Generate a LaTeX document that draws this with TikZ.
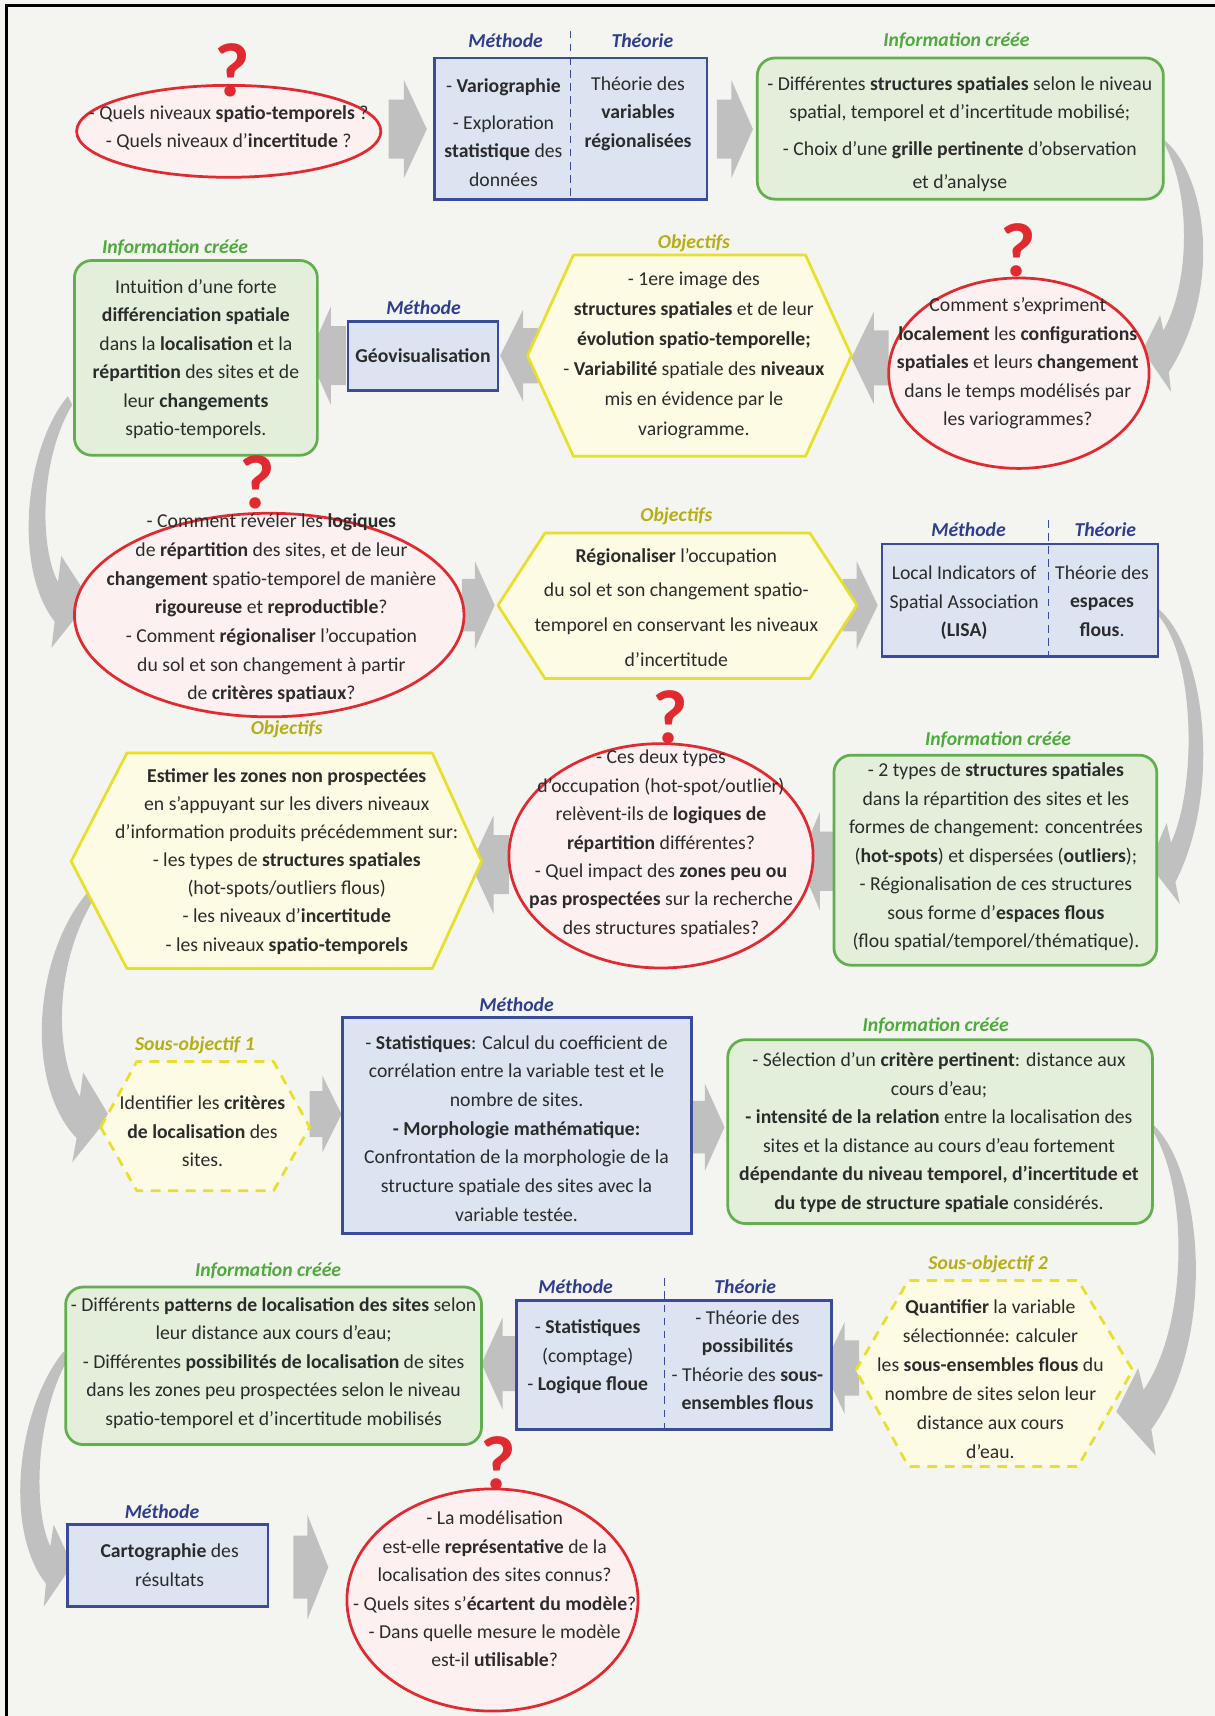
\documentclass[tikz,border=0pt]{standalone}
\usepackage{fontspec}
\setmainfont{Carlito}
\usetikzlibrary{shapes.geometric}
\definecolor{bgc}{HTML}{F4F4F0}
\definecolor{redc}{HTML}{E02A30}
\definecolor{redfill}{HTML}{FCF1F0}
\definecolor{bluec}{HTML}{3B4B9B}
\definecolor{bluefill}{HTML}{DCE4F2}
\definecolor{greenc}{HTML}{63AE4E}
\definecolor{greenfill}{HTML}{E3EFDB}
\definecolor{yellowc}{HTML}{E6E02C}
\definecolor{yellowfill}{HTML}{FDFBE4}
\definecolor{arrowc}{HTML}{C0C0C0}
\definecolor{tblue}{HTML}{2F3D8E}
\definecolor{tgreen}{HTML}{4EAA3C}
\definecolor{tolive}{HTML}{B5AE17}
\definecolor{txtc}{HTML}{2B2B2B}
\newcommand{\blockarr}[4]{\fill[arrowc] ({#1},{#3-0.6*#4}) -- ({#1+0.4*(#2-#1)},{#3-0.6*#4}) -- ({#1+0.4*(#2-#1)},{#3-#4}) -- ({#2},{#3}) -- ({#1+0.4*(#2-#1)},{#3+#4}) -- ({#1+0.4*(#2-#1)},{#3+0.6*#4}) -- ({#1},{#3+0.6*#4}) -- cycle;}
\begin{document}
\begin{tikzpicture}[x=1pt,y=-1pt,
  txt/.style={font=\fontsize{18}{26}\selectfont, align=center, text=txtc, inner sep=0pt},
  ttl/.style={font=\fontsize{18}{20}\selectfont\bfseries\itshape, inner sep=0pt},
  tb/.style={ttl, text=tblue},
  tg/.style={ttl, text=tgreen},
  ty/.style={ttl, text=tolive},
  qmark/.style={font=\fontsize{70}{70}\selectfont\bfseries, text=redc, inner sep=0pt},
  redell/.style={ellipse, draw=redc, fill=redfill, line width=2.5pt, inner sep=0pt},
  bluebox/.style={rectangle, draw=bluec, fill=bluefill, line width=2.5pt, inner sep=0pt},
  greenbox/.style={rectangle, rounded corners=16pt, draw=greenc, fill=greenfill, line width=2.5pt, inner sep=0pt},
  yelhex/.style={draw=yellowc, fill=yellowfill, line width=2.5pt, line join=round},
  yeldash/.style={yelhex, dash pattern=on 9pt off 7pt},
  sep/.style={draw=bluec, line width=1.2pt, dash pattern=on 7pt off 5pt}
]
\fill[bgc] (0,0) rectangle (1110,1568);
\useasboundingbox (0,0) rectangle (1110,1568);
\draw[black, line width=2.5pt] (6,1568) -- (6,5) -- (1110,5);

% curved arrows
\fill[arrowc] (1064,128) .. controls (1102,160) and (1118,262) .. (1068,340) -- (1070,358) -- (1044,320) -- (1060,288) -- (1063,302) .. controls (1088,258) and (1088,175) .. (1064,132) -- cycle;
\fill[arrowc] (62,362) .. controls (22,410) and (12,520) .. (50,568) -- (47,592) -- (82,548) -- (56,508) -- (53,532) .. controls (36,500) and (36,420) .. (66,370) -- cycle;
\fill[arrowc] (1058,556) .. controls (1100,590) and (1118,720) .. (1074,806) -- (1078,826) -- (1050,790) -- (1066,752) -- (1070,770) .. controls (1094,718) and (1092,600) .. (1058,562) -- cycle;
\fill[arrowc] (83,812) .. controls (30,870) and (22,990) .. (70,1040) -- (66,1062) -- (100,1020) -- (76,980) -- (73,1002) .. controls (50,965) and (48,880) .. (88,818) -- cycle;
\fill[arrowc] (1053,1027) .. controls (1100,1070) and (1112,1225) .. (1052,1306) -- (1056,1330) -- (1020,1290) -- (1040,1250) -- (1045,1270) .. controls (1086,1210) and (1086,1085) .. (1053,1033) -- cycle;
\fill[arrowc] (58,1235) .. controls (14,1290) and (4,1400) .. (42,1447) -- (40,1468) -- (66,1430) -- (49,1393) -- (46,1413) .. controls (30,1380) and (32,1295) .. (62,1242) -- cycle;

% block arrows
\blockarr{355}{390}{118}{45}
\blockarr{655}{688}{118}{45}
\blockarr{316}{282}{325}{45}
\blockarr{492}{457}{325}{42}
\blockarr{812}{778}{327}{42}
\blockarr{422}{452}{553}{40}
\blockarr{770}{802}{553}{40}
\blockarr{465}{430}{790}{45}
\blockarr{762}{730}{787}{45}
\blockarr{283}{312}{1018}{35}
\blockarr{632}{662}{1030}{40}
\blockarr{472}{440}{1246}{42}
\blockarr{785}{752}{1250}{42}
\blockarr{268}{300}{1432}{48}

% Row 1
\node[redell, minimum width=278pt, minimum height=84pt] (e1) at (209,120) {};
\node[txt] (e1t) at (209,117) {- Quels niveaux \textbf{spatio-temporels} ?\\- Quels niveaux d’\textbf{incertitude} ?};
\node[qmark] (q1) at (212,64) {?};
\node[bluebox, minimum width=249pt, minimum height=129pt] (b1) at (521.5,117.5) {};
\draw[sep] (521,28) -- (521,182);
\node[tb] (b1m) at (462,37) {Méthode};
\node[tb] (b1th) at (587,37) {Théorie};
\node[txt] (b1l) at (460,121) {- \textbf{Variographie}\\[8pt]- Exploration\\\textbf{statistique} des\\données};
\node[txt] (b1r) at (583,104) {Théorie des\\\textbf{variables}\\\textbf{régionalisées}};
\node[greenbox, minimum width=371pt, minimum height=129pt] (g1) at (877.5,117.5) {};
\node[tg] (g1h) at (874,37) {Information créée};
\node[txt] (g1t) at (877,122.5) {- Différentes \textbf{structures spatiales} selon le niveau\\spatial, temporel et d’incertitude mobilisé;\\[8pt]- Choix d’une \textbf{grille pertinente} d’observation\\[4pt]et d’analyse};

% Row 2
\node[greenbox, minimum width=222pt, minimum height=178pt] (g2) at (179,327) {};
\node[tg] (g2h) at (160,226) {Information créée};
\node[txt] (g2t) at (179,328) {Intuition d’une forte\\\textbf{différenciation spatiale}\\dans la \textbf{localisation} et la\\\textbf{répartition} des sites et de\\leur \textbf{changements}\\spatio-temporels.};
\node[bluebox, minimum width=137pt, minimum height=63pt] (b2) at (386.5,325.5) {};
\node[tb] (b2m) at (387,281) {Méthode};
\node[txt] (b2t) at (386.5,325) {\textbf{Géovisualisation}};
\filldraw[yelhex] (482,325) -- (524,233) -- (736,233) -- (778,325) -- (736,417) -- (524,417) -- cycle;
\node[ty] (h2h) at (634,222) {Objectifs};
\node[txt, font=\fontsize{18}{27.4}\selectfont] (h2t) at (634,324.5) {- 1ere image des\\\textbf{structures spatiales} et de leur\\\textbf{évolution spatio-temporelle;}\\- \textbf{Variabilité} spatiale des \textbf{niveaux}\\mis en évidence par le\\variogramme.};
\node[redell, minimum width=238pt, minimum height=174pt] (e2) at (931,341) {};
\node[txt] (e2t) at (930,332) {Comment s’expriment\\\textbf{localement} les \textbf{configurations}\\\textbf{spatiales} et leurs \textbf{changement}\\dans le temps modélisés par\\les variogrammes?};
\node[qmark] (q2) at (930,229) {?};

% Row 3
\node[redell, minimum width=356pt, minimum height=186pt] (e3) at (246,562) {};
\node[txt, font=\fontsize{18}{26.2}\selectfont] (e3t) at (248,556) {- Comment révéler les \textbf{logiques}\\de \textbf{répartition} des sites, et de leur\\\textbf{changement} spatio-temporel de manière\\\textbf{rigoureuse} et \textbf{reproductible}?\\- Comment \textbf{régionaliser} l’occupation\\du sol et son changement à partir\\de \textbf{critères spatiaux}?};
\node[qmark] (q3) at (235,441) {?};
\filldraw[yelhex] (455,553) -- (498,487) -- (740,487) -- (783,553) -- (740,620) -- (498,620) -- cycle;
\node[ty] (h3h) at (618,472) {Objectifs};
\node[txt, font=\fontsize{18}{31.7}\selectfont] (h3t) at (618,555) {\textbf{Régionaliser} l’occupation\\du sol et son changement spatio-\\temporel en conservant les niveaux\\d’incertitude};
\node[bluebox, minimum width=252pt, minimum height=103pt] (b3) at (932,548.5) {};
\draw[sep] (958,475) -- (958,600);
\node[tb] (b3m) at (885,484) {Méthode};
\node[tb] (b3th) at (1010,484) {Théorie};
\node[txt] (b3l) at (881,551) {Local Indicators of\\Spatial Association\\\textbf{(LISA)}};
\node[txt] (b3r) at (1007,549) {Théorie des\\\textbf{espaces}\\\textbf{flous}.};

% Row 4
\filldraw[yelhex] (65,787) -- (116,688) -- (395,688) -- (440,787) -- (395,885) -- (116,885) -- cycle;
\node[ty] (h4h) at (262,666) {Objectifs};
\node[txt, font=\fontsize{18}{25.7}\selectfont] (h4t) at (262,787) {\textbf{Estimer les zones non prospectées}\\en s’appuyant sur les divers niveaux\\d’information produits précédemment sur:\\- les types de \textbf{structures spatiales}\\(hot-spots/outliers flous)\\- les niveaux d’\textbf{incertitude}\\- les niveaux \textbf{spatio-temporels}};
\node[redell, minimum width=278pt, minimum height=205pt] (e4) at (604,782) {};
\node[txt] (e4t) at (604,771) {- Ces deux types\\d’occupation (hot-spot/outlier)\\relèvent-ils de \textbf{logiques de}\\\textbf{répartition} différentes?\\- Quel impact des \textbf{zones peu ou}\\\textbf{pas prospectées} sur la recherche\\des structures spatiales?};
\node[qmark] (q4) at (612,655) {?};
\node[greenbox, minimum width=295pt, minimum height=192pt] (g4) at (909.5,786) {};
\node[tg] (g4h) at (912,676) {Information créée};
\node[txt] (g4t) at (910,783) {- 2 types de \textbf{structures spatiales}\\dans la répartition des sites et les\\formes de changement: concentrées\\(\textbf{hot-spots}) et dispersées (\textbf{outliers});\\- Régionalisation de ces structures\\sous forme d’\textbf{espaces flous}\\(flou spatial/temporel/thématique).};

% Row 5
\filldraw[yeldash] (92,1030) -- (125,970) -- (250,970) -- (283,1030) -- (250,1088) -- (125,1088) -- cycle;
\node[ty] (h5h) at (178,955) {Sous-objectif 1};
\node[txt] (h5t) at (185,1034) {Identifier les \textbf{critères}\\\textbf{de localisation} des\\sites.};
\node[bluebox, minimum width=319pt, minimum height=197pt] (b5) at (472.5,1028.5) {};
\node[tb] (b5m) at (472,918) {Méthode};
\node[txt, font=\fontsize{18}{26.2}\selectfont] (b5t) at (472,1031) {- \textbf{Statistiques}: Calcul du coefficient de\\corrélation entre la variable test et le\\nombre de sites.\\\textbf{- Morphologie mathématique:}\\Confrontation de la morphologie de la\\structure spatiale des sites avec la\\variable testée.};
\node[greenbox, minimum width=388pt, minimum height=168pt] (g5) at (859,1034) {};
\node[tg] (g5h) at (855,937) {Information créée};
\node[txt] (g5t) at (858,1035) {- Sélection d’un \textbf{critère pertinent}: distance aux\\cours d’eau;\\\textbf{- intensité de la relation} entre la localisation des\\sites et la distance au cours d’eau fortement\\\textbf{dépendante du niveau temporel, d’incertitude et}\\\textbf{du type de structure spatiale} considérés.};

% Row 6
\node[greenbox, minimum width=380pt, minimum height=144pt] (g6) at (250,1248) {};
\node[tg] (g6h) at (245,1161) {Information créée};
\node[txt] (g6t) at (250,1245.5) {- Différents \textbf{patterns de localisation des sites} selon\\leur distance aux cours d’eau;\\- Différentes \textbf{possibilités de localisation} de sites\\dans les zones peu prospectées selon le niveau\\spatio-temporel et d’incertitude mobilisés};
\node[bluebox, minimum width=288pt, minimum height=118pt] (b6) at (616,1247) {};
\draw[sep] (607,1168) -- (607,1306);
\node[tb] (b6m) at (526,1176) {Méthode};
\node[tb] (b6th) at (681,1176) {Théorie};
\node[txt] (b6l) at (537,1240) {- \textbf{Statistiques}\\(comptage)\\- \textbf{Logique floue}};
\node[txt] (b6r) at (683,1243) {- Théorie des\\\textbf{possibilités}\\- Théorie des \textbf{sous-}\\\textbf{ensembles flous}};
\filldraw[yeldash] (782,1252) -- (830,1170) -- (985,1170) -- (1035,1252) -- (985,1340) -- (830,1340) -- cycle;
\node[ty] (h6h) at (903,1155) {Sous-objectif 2};
\node[txt, font=\fontsize{18}{26.4}\selectfont] (h6t) at (905,1260) {\textbf{Quantifier} la variable\\sélectionnée: calculer\\les \textbf{sous-ensembles flous} du\\nombre de sites selon leur\\distance aux cours\\d’eau.};

% Row 7
\node[bluebox, minimum width=183pt, minimum height=75pt] (b7) at (153.5,1430.5) {};
\node[tb] (b7m) at (148,1381) {Méthode};
\node[txt] (b7t) at (155,1430) {\textbf{Cartographie} des\\résultats};
\node[redell, minimum width=266pt, minimum height=203pt] (e7) at (450,1462) {};
\node[txt] (e7t) at (452,1452) {- La modélisation\\est-elle \textbf{représentative} de la\\localisation des sites connus?\\- Quels sites s’\textbf{écartent du modèle}?\\- Dans quelle mesure le modèle\\est-il \textbf{utilisable}?};
\node[qmark] (q5) at (455,1337) {?};
\end{tikzpicture}
\end{document}
